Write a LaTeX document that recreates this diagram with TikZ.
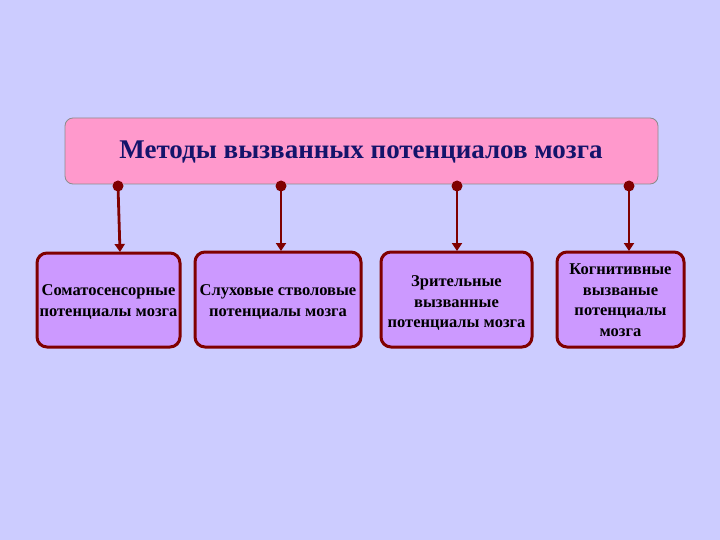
\documentclass[tikz,border=0pt]{standalone}
\usepackage{fontspec}
\setmainfont{Liberation Serif}
\usetikzlibrary{arrows.meta}
\definecolor{bg}{HTML}{CCCCFF}
\definecolor{titlefill}{HTML}{FF99CC}
\definecolor{titletext}{HTML}{14146B}
\definecolor{boxfill}{HTML}{CC99FF}
\definecolor{darkred}{HTML}{800000}
\tikzset{
  titlebox/.style={draw=black!45, line width=0.8pt, fill=titlefill, rounded corners=8pt},
  subbox/.style={draw=darkred, line width=3pt, fill=boxfill, rounded corners=10pt},
  subtext/.style={font=\bfseries\fontsize{16.5}{20.5}\selectfont, align=center, text=black},
  conn/.style={draw=darkred, line width=2.8pt, -{Triangle[width=10pt,length=8pt]}},
  dotc/.style={circle, fill=darkred, inner sep=0pt, minimum size=11pt}
}
\begin{document}
\begin{tikzpicture}[x=1pt,y=-1pt]
\fill[bg] (0,0) rectangle (720,540);
\useasboundingbox (0,0) rectangle (720,540);
\draw[titlebox] (65,118) rectangle (658,184);
\node[font=\bfseries\fontsize{27}{30}\selectfont, text=titletext] (title) at (361,152) {Методы вызванных потенциалов мозга};
\draw[subbox] (37,253) rectangle (180,347);
\draw[subbox] (195,252) rectangle (361,347);
\draw[subbox] (381,252) rectangle (532,347);
\draw[subbox] (557,252) rectangle (684,347);
\node[subtext] (b1) at (108.5,302) {Соматосенсорные\\потенциалы мозга};
\node[subtext] (b2) at (278,302) {Слуховые стволовые\\потенциалы мозга};
\node[subtext] (b3) at (456.5,303) {Зрительные\\вызванные\\потенциалы мозга};
\node[subtext] (b4) at (620.5,300) {Когнитивные\\вызваные\\потенциалы\\мозга};
\node[dotc] (d1) at (118,186) {};
\node[dotc] (d2) at (281,186) {};
\node[dotc] (d3) at (457,186) {};
\node[dotc] (d4) at (629,186) {};
\coordinate (e1) at (120,252);
\coordinate (e2) at (281,251);
\coordinate (e3) at (457,251);
\coordinate (e4) at (629,251);
\draw[conn] (d1.center) -- (e1);
\draw[conn] (d2.center) -- (e2);
\draw[conn] (d3.center) -- (e3);
\draw[conn] (d4.center) -- (e4);
\end{tikzpicture}
\end{document}
